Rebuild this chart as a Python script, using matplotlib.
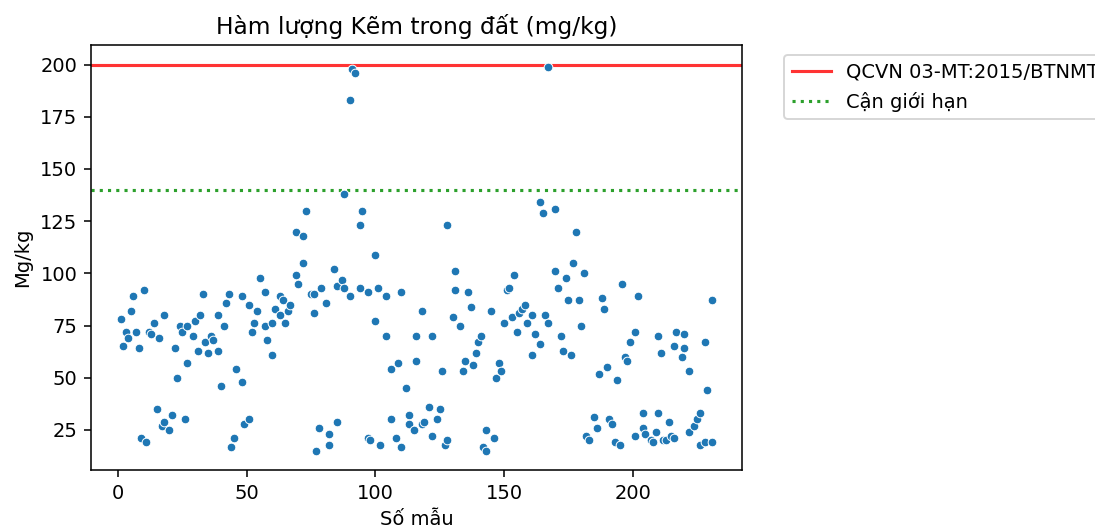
import matplotlib
matplotlib.use('Agg')
import matplotlib.pyplot as plt

# Ham luong kem trong dat - so mau va gia tri (mg/kg)
so_mau = [1, 2, 3, 4, 5, 6, 7, 8, 9, 10, 11, 12, 13, 14, 15, 16, 17, 18, 18, 20,
          21, 22, 23, 24, 25, 26, 27, 27, 29, 30, 31, 32, 33, 34, 35, 36, 37, 39, 39, 40,
          41, 42, 43, 44, 45, 46, 48, 48, 49, 51, 51, 52, 53, 54, 55, 57, 57, 58, 60, 60,
          61, 63, 63, 64, 65, 66, 67, 69, 69, 70, 72, 72, 73, 75, 76, 76, 77, 78, 79, 81,
          82, 82, 84, 85, 85, 87, 88, 88, 90, 90, 91, 92, 94, 94, 95, 97, 97, 98, 100, 100,
          101, 102, 104, 104, 106, 106, 108, 109, 110, 110, 112, 113, 113, 115, 116, 116, 118, 118, 119, 121,
          122, 122, 124, 125, 126, 127, 128, 128, 130, 131, 131, 133, 134, 135, 136, 137, 138, 139, 140, 141,
          142, 143, 143, 145, 146, 147, 148, 149, 150, 151, 152, 153, 154, 155, 156, 157, 158, 159, 161, 161,
          162, 164, 164, 165, 166, 167, 167, 170, 170, 171, 172, 173, 174, 175, 176, 177, 178, 179, 180, 181,
          182, 183, 185, 186, 187, 188, 189, 190, 191, 192, 193, 194, 195, 196, 197, 198, 199, 201, 201, 202,
          204, 204, 205, 207, 208, 209, 210, 210, 211, 212, 213, 214, 215, 216, 216, 217, 219, 220, 220, 222,
          222, 224, 225, 226, 226, 228, 228, 229, 231, 231]
ham_luong = [78, 65, 72, 69, 82, 89, 72, 64, 21, 92, 19, 72, 71, 76, 35, 69, 27, 80, 29, 25,
             32, 64, 50, 75, 72, 30, 75, 57, 70, 77, 63, 80, 90, 67, 62, 70, 68, 63, 80, 46,
             75, 86, 90, 17, 21, 54, 89, 48, 28, 85, 30, 72, 76, 82, 98, 91, 75, 68, 76, 61,
             83, 89, 80, 87, 76, 82, 85, 120, 99, 95, 118, 105, 130, 90, 90, 81, 15, 26, 93, 86,
             23, 18, 102, 94, 29, 97, 138, 93, 183, 89, 198, 196, 123, 93, 130, 91, 21, 20, 109, 77,
             93, 18, 89, 70, 54, 30, 21, 57, 91, 17, 45, 32, 28, 25, 70, 58, 82, 28, 29, 36,
             70, 22, 30, 35, 53, 18, 123, 20, 79, 101, 92, 75, 53, 58, 91, 84, 56, 62, 67, 70,
             17, 25, 15, 82, 21, 50, 57, 53, 76, 92, 93, 79, 99, 72, 81, 83, 85, 76, 61, 80,
             71, 134, 66, 129, 80, 199, 76, 131, 101, 93, 70, 63, 98, 87, 61, 105, 120, 87, 75, 100,
             22, 20, 31, 26, 52, 88, 83, 55, 30, 28, 19, 49, 18, 95, 60, 58, 67, 72, 22, 89,
             33, 26, 23, 20, 19, 24, 70, 33, 62, 20, 20, 29, 22, 65, 21, 72, 60, 71, 64, 53,
             24, 27, 30, 33, 18, 67, 19, 44, 87, 19]

gioi_han = 200
can_gioi_han = 140

DPI = 140
fig = plt.figure(figsize=(1095 / DPI, 527 / DPI), dpi=DPI)
ax = fig.add_axes([0.0831, 0.108, 0.5945, 0.806])

ax.axhline(gioi_han, color='red', linewidth=1.6, alpha=0.8, label='QCVN 03-MT:2015/BTNMT')
ax.axhline(can_gioi_han, color='tab:green', linestyle=':', linewidth=1.6, label='Cận giới hạn')
ax.scatter(so_mau, ham_luong, s=20, color='tab:blue', edgecolor='white', linewidth=0.5, zorder=3)

ax.set_title('Hàm lượng Kẽm trong đất (mg/kg)', fontsize=12)
ax.set_xlabel('Số mẫu', fontsize=10)
ax.set_ylabel('Mg/kg', fontsize=10)
ax.tick_params(labelsize=10)
ax.set_xticks([0, 50, 100, 150, 200])
ax.set_yticks([25, 50, 75, 100, 125, 150, 175, 200])

ax.legend(bbox_to_anchor=(1.05, 1), loc='upper left', fontsize=10)

fig.savefig('out.png', dpi=DPI)
